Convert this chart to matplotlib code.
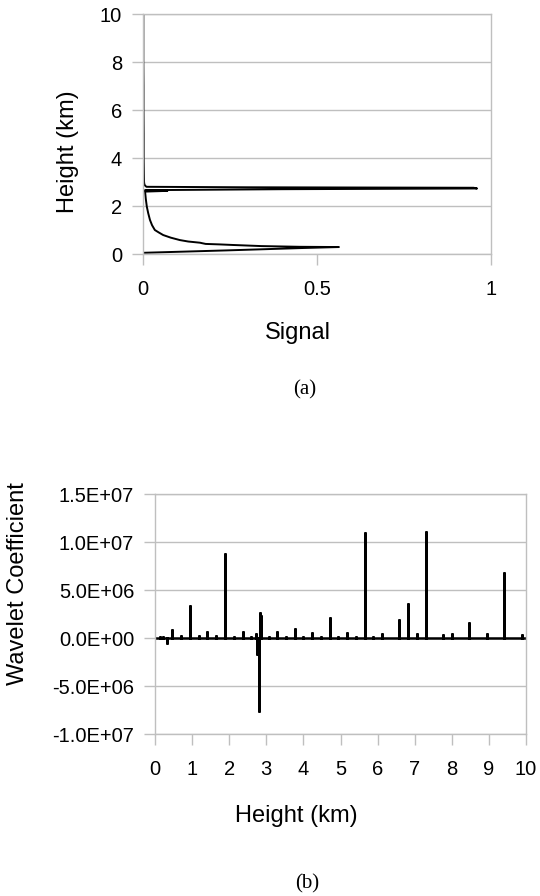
import numpy as np
import matplotlib
matplotlib.use("Agg")
import matplotlib.pyplot as plt
from matplotlib.ticker import FuncFormatter

plt.rcParams['font.family'] = ['Liberation Sans', 'DejaVu Sans']

# (a) signal profile, read along the curve from the ground upwards
height_a = [0.0, 0.05, 0.10, 0.15, 0.20, 0.25, 0.29, 0.30, 0.33, 0.375, 0.40,
            0.42, 0.45, 0.47, 0.52, 0.58, 0.68, 0.79, 0.90, 1.00, 1.20, 1.42,
            1.70, 1.97, 2.30, 2.60, 2.63, 2.64, 2.66, 2.70, 2.73, 2.76, 2.78,
            2.80, 2.85, 2.90, 3.0, 4.0, 5.0, 6.0, 7.0, 8.0, 9.0, 10.0]
signal_a = [0.0, 0.0, 0.12, 0.24, 0.35, 0.46, 0.563, 0.45, 0.34, 0.26, 0.22,
            0.18, 0.17, 0.164, 0.13, 0.106, 0.08, 0.058, 0.045, 0.034, 0.026, 0.02,
            0.015, 0.011, 0.008, 0.006, 0.07, 0.004, 0.01, 0.40, 0.96, 0.95, 0.30,
            0.01, 0.006, 0.004, 0.003, 0.002, 0.002, 0.0015, 0.0015, 0.001, 0.001, 0.001]

# (b) wavelet coefficients: spike positions (km) and values
spike_pos = [0.13, 0.21, 0.33, 0.47, 0.70, 0.94, 1.18, 1.41, 1.65, 1.88, 2.12,
             2.36, 2.59, 2.71, 2.74, 2.76, 2.79, 2.82, 2.86, 3.06, 3.29, 3.53,
             3.77, 4.00, 4.24, 4.47, 4.71, 4.94, 5.18, 5.42, 5.65, 5.88, 6.12,
             6.59, 6.83, 7.07, 7.30, 7.77, 8.00, 8.47, 8.95, 9.42, 9.89]
spike_val = [0.2e6, 0.2e6, -0.6e6, 0.9e6, 0.3e6, 3.45e6, 0.27e6, 0.78e6, 0.3e6, 8.85e6, 0.25e6,
             0.74e6, 0.25e6, 0.49e6, -1.5e6, -1.8e6, -7.7e6, 2.7e6, 2.4e6, 0.25e6, 0.76e6, 0.25e6,
             1.08e6, 0.25e6, 0.67e6, 0.25e6, 2.2e6, 0.2e6, 0.6e6, 0.22e6, 11.0e6, 0.25e6, 0.55e6,
             1.95e6, 3.6e6, 0.5e6, 11.1e6, 0.45e6, 0.52e6, 1.63e6, 0.5e6, 6.85e6, 0.45e6]

grey = '#bfbfbf'

fig = plt.figure(figsize=(5.4, 8.96), dpi=100)

def style(ax):
    for s in ax.spines.values():
        s.set_color(grey)
        s.set_linewidth(1.0)
    ax.grid(axis='y', color=grey, linewidth=1.0)
    ax.set_axisbelow(True)
    ax.tick_params(colors='black', labelsize=14.5, length=8, width=1.0)
    ax.tick_params(axis='x', color=grey, pad=11)
    ax.tick_params(axis='y', color=grey, pad=7)

# ---- (a)
ax1 = fig.add_axes([143/540, 1-254/896, 348/540, 240/896])
ax1.plot(signal_a, height_a, color='black', lw=1.4)
ax1.set_xlim(0, 1)
ax1.set_ylim(0, 10)
ax1.set_xticks([0, 0.5, 1])
ax1.set_xticklabels(['0', '0.5', '1'])
ax1.set_yticks(range(0, 11, 2))
style(ax1)
fig.text(68/540, 1-152/896, 'Height (km)', rotation=90, fontsize=17, ha='center', va='center')
fig.text(298/540, 1-333/896, 'Signal', fontsize=17, ha='center', va='center')
fig.text(305/540, 1-390/896, '(a)', fontsize=15, ha='center', va='center', family='Liberation Serif')

# ---- (b)
xs, ys = [0.0], [0.0]
for p, v in zip(spike_pos, spike_val):
    xs += [p, p, p]
    ys += [0.0, v, 0.0]
xs.append(10.0)
ys.append(0.0)

ax2 = fig.add_axes([155/540, 1-734/896, 371/540, 240/896])
ax2.plot(xs, ys, color='black', lw=1.8, solid_joinstyle='miter')
ax2.set_xlim(0, 10)
ax2.set_ylim(-1e7, 1.5e7)
ax2.set_xticks(range(0, 11))
ax2.set_yticks(np.arange(-1e7, 1.5e7 + 1, 5e6))
ax2.yaxis.set_major_formatter(FuncFormatter(lambda v, _: f'{v:.1E}'))
style(ax2)
fig.text(18/540, 1-584/896, 'Wavelet Coefficient', rotation=90, fontsize=17, ha='center', va='center')
fig.text(296/540, 1-816/896, 'Height (km)', fontsize=17, ha='center', va='center')
fig.text(307/540, 1-884/896, '(b)', fontsize=15, ha='center', va='center', family='Liberation Serif')

fig.savefig('out.png', dpi=100)
